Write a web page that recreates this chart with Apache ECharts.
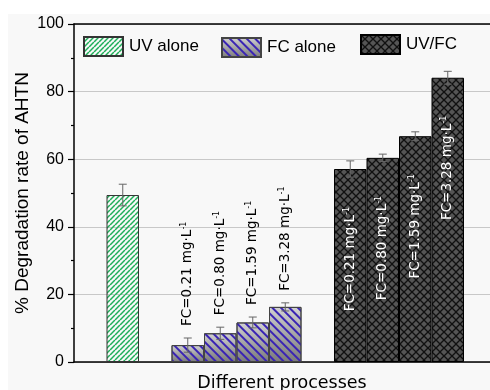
<!DOCTYPE html>
<html>
<head>
<meta charset="utf-8">
<script src="https://cdn.jsdelivr.net/npm/echarts@6/dist/echarts.min.js"></script>
<style>
  html, body { margin: 0; padding: 0; background: #fff; }
  #wrap { position: relative; width: 490px; height: 390px; overflow: hidden; }
  #panel { position: absolute; left: 8px; top: 14px; right: 0; bottom: 0; background: #f8f8f8; }
  #chart { position: absolute; left: 0; top: 0; width: 490px; height: 390px; }
</style>
</head>
<body>
<div id="wrap"><div id="panel"></div><div id="chart"></div></div>
<script>
// Process groups (legend entries)
const groups = ['UV alone', 'FC alone', 'UV/FC'];
// Free-chlorine doses (mg/L) used in the FC-alone and UV/FC runs
const doses = ['0.21', '0.80', '1.59', '3.28'];
// Mean AHTN degradation (%) and its standard deviation
const uvAlone = [49.4];
const uvAloneErr = [3.2];
const fcAlone = [5.0, 8.5, 11.7, 16.3];
const fcAloneErr = [2.1, 1.8, 1.6, 1.2];
const uvFc = [57.1, 60.4, 66.8, 84.1];
const uvFcErr = [2.4, 1.1, 1.3, 1.9];
// Y axis ticks
const yTicks = [0, 20, 40, 60, 80, 100];

// first slot of each group along the x axis (one empty slot between groups)
const groupStart = [0, 2, 7];
const groupValues = [uvAlone, fcAlone, uvFc];
const groupErrs = [uvAloneErr, fcAloneErr, uvFcErr];

// tiled hatch patterns
function hatch(size, bg, dirs, color, lw) {
  const c = document.createElement('canvas');
  c.width = c.height = size;
  const g = c.getContext('2d');
  if (bg) { g.fillStyle = bg; g.fillRect(0, 0, size, size); }
  g.strokeStyle = color;
  g.lineWidth = lw;
  dirs.forEach(function (d) {
    for (let k = -1; k <= 1; k++) {
      g.beginPath();
      if (d === '/') { g.moveTo(k * size, size); g.lineTo(k * size + size, 0); }
      else { g.moveTo(k * size, 0); g.lineTo(k * size + size, size); }
      g.stroke();
    }
  });
  return c;
}
const greenHatch = hatch(5, null, ['/'], '#1fae58', 1.5);
const crossHatch = hatch(8, '#555555', ['/', '\\'], '#111111', 1.3);

const barStyles = [
  { color: { image: greenHatch, repeat: 'repeat' }, borderColor: '#333', borderWidth: 1 },
  {
    color: new echarts.graphic.LinearGradient(0, 0, 0, 1, [
      { offset: 0, color: '#d2d2d2' }, { offset: 1, color: '#7a7a7a' }
    ]),
    borderColor: '#444', borderWidth: 1,
    decal: {
      symbol: 'rect', symbolSize: 1, dashArrayX: [1, 0], dashArrayY: [2, 4],
      rotation: Math.PI / 4, color: '#3a24b4', backgroundColor: null
    }
  },
  { color: { image: crossHatch, repeat: 'repeat' }, borderColor: '#000', borderWidth: 1 }
];

const barSeries = groups.map(function (name, gi) {
  return {
    name: name,
    type: 'bar',
    barWidth: 32.5,
    barGap: '-100%',
    itemStyle: barStyles[gi],
    z: 2,
    data: groupValues[gi].map(function (v, i) { return [groupStart[gi] + i, v]; })
  };
});

// error bars + dose labels: [x, mean, sd, group, doseIndex]
const errRows = [];
groups.forEach(function (name, gi) {
  groupValues[gi].forEach(function (v, i) {
    errRows.push([groupStart[gi] + i, v, groupErrs[gi][i], gi, i]);
  });
});

const labelRich = {
  m: { fontSize: 13.5, fontFamily: 'DejaVu Sans', lineHeight: 15 },
  s: { fontSize: 8, fontFamily: 'DejaVu Sans', verticalAlign: 'top', lineHeight: 9 }
};

function renderErr(params, api) {
  const x = api.value(0), v = api.value(1), e = api.value(2);
  const gi = api.value(3), di = api.value(4);
  const top = api.coord([x, v + e]);
  const bot = api.coord([x, v - e]);
  const mid = api.coord([x, v]);
  const ls = { stroke: '#666', lineWidth: 1 };
  const kids = [
    { type: 'line', shape: { x1: top[0], y1: top[1], x2: bot[0], y2: bot[1] }, style: ls },
    { type: 'line', shape: { x1: top[0] - 4, y1: top[1], x2: top[0] + 4, y2: top[1] }, style: ls },
    { type: 'line', shape: { x1: bot[0] - 4, y1: bot[1], x2: bot[0] + 4, y2: bot[1] }, style: ls }
  ];
  if (gi > 0) {
    const txt = '{m|FC=' + doses[di] + ' mg\u00b7L}{s|-1}';
    if (gi === 1) {
      kids.push({
        type: 'text', x: top[0], y: top[1] - 12, rotation: Math.PI / 2,
        style: { text: txt, rich: labelRich, fill: '#000', align: 'left', verticalAlign: 'middle' }
      });
    } else {
      kids.push({
        type: 'text', x: mid[0], y: mid[1] + 38, rotation: Math.PI / 2,
        style: { text: txt, rich: labelRich, fill: '#fff', align: 'right', verticalAlign: 'middle' }
      });
    }
  }
  return { type: 'group', children: kids };
}

const legendBase = {
  orient: 'horizontal', padding: 0, itemWidth: 39, itemHeight: 19, itemGap: 0,
  icon: 'rect', selectedMode: false,
  textStyle: { fontSize: 17, fontFamily: 'Liberation Sans', color: '#000', padding: [0, 0, 0, 1] }
};

const chart = echarts.init(document.getElementById('chart'), null, { renderer: 'canvas' });
chart.setOption({
  backgroundColor: 'transparent',
  animation: false,
  legend: [
    Object.assign({}, legendBase, { data: [groups[0]], left: 83, top: 36 }),
    Object.assign({}, legendBase, { data: [groups[1]], left: 221, top: 37 }),
    Object.assign({}, legendBase, { data: [groups[2]], left: 360, top: 34 })
  ],
  grid: { left: 74, top: 24, right: 0, bottom: 28, containLabel: false, outerBoundsMode: 'none' },
  xAxis: [
    {
      type: 'value', min: -1.5, max: 11.3, position: 'bottom',
      axisLine: { show: true, onZero: false, lineStyle: { color: '#000', width: 1.5 } },
      axisTick: { show: false }, axisLabel: { show: false }, splitLine: { show: false },
      name: 'Different processes', nameLocation: 'middle', nameGap: 12,
      nameTextStyle: { fontSize: 17.5, fontFamily: 'DejaVu Sans', color: '#000' }
    },
    {
      type: 'value', min: -1.5, max: 11.3, position: 'top',
      axisLine: { show: true, onZero: false, lineStyle: { color: '#000', width: 1.5 } },
      axisTick: { show: false }, axisLabel: { show: false }, splitLine: { show: false }
    }
  ],
  yAxis: {
    type: 'value',
    min: yTicks[0], max: yTicks[yTicks.length - 1], interval: yTicks[1] - yTicks[0],
    axisLine: { show: true, onZero: false, lineStyle: { color: '#000', width: 1.5 } },
    axisTick: { show: true, inside: false, length: 6, lineStyle: { color: '#000', width: 1.2 } },
    minorTick: { show: true, splitNumber: 2, length: 3, lineStyle: { color: '#000', width: 1.2 } },
    axisLabel: { fontSize: 16, fontFamily: 'Liberation Sans', color: '#000', margin: 10 },
    splitLine: { show: true, lineStyle: { color: '#c8c8c8', width: 1 } },
    name: '% Degradation rate of AHTN', nameLocation: 'middle', nameGap: 42,
    nameMoveOverlap: false,
    nameTextStyle: { fontSize: 19, fontFamily: 'Liberation Sans', color: '#000' }
  },
  series: barSeries.concat([{
    type: 'custom',
    renderItem: renderErr,
    encode: { x: 0, y: 1 },
    z: 5,
    data: errRows
  }])
});
</script>
</body>
</html>
